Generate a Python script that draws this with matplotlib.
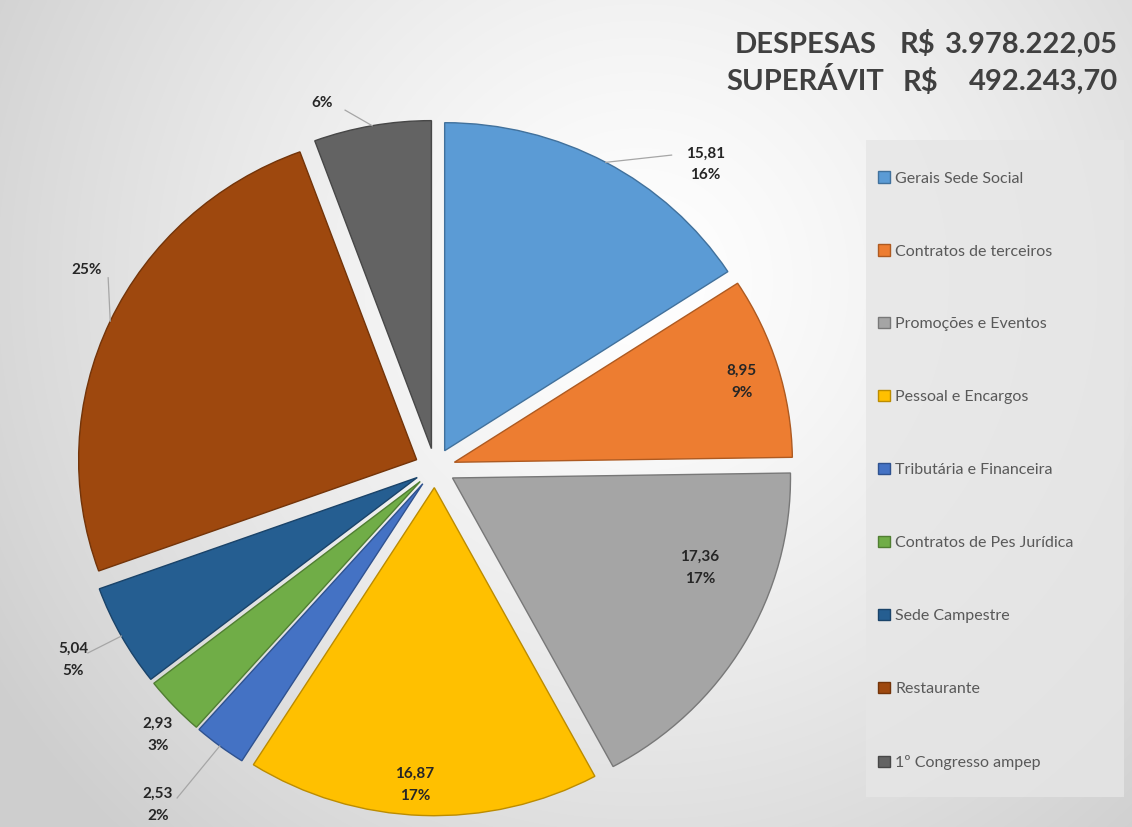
import matplotlib.pyplot as plt
import numpy as np
from matplotlib.patches import Rectangle

plt.rcParams['font.family'] = ['Lato', 'DejaVu Sans']

# data
categories = ['Gerais Sede Social', 'Contratos de terceiros', 'Promoções e Eventos',
              'Pessoal e Encargos', 'Tributária e Financeira', 'Contratos de Pes Jurídica',
              'Sede Campestre', 'Restaurante', '1º Congresso ampep']
values = [15.81, 8.95, 17.36, 16.87, 2.53, 2.93, 5.04, 24.9, 5.61]
value_labels = ['15,81', '8,95', '17,36', '16,87', '2,53', '2,93', '5,04', '', '']
pct_labels = ['16%', '9%', '17%', '17%', '2%', '3%', '5%', '25%', '6%']
colors = ['#5B9BD5', '#ED7D31', '#A5A5A5', '#FFC000', '#4472C4',
          '#70AD47', '#255E91', '#9E480E', '#636363']
edges = ['#41719C', '#AE5A21', '#787878', '#BC8C00', '#2F528F',
         '#507E32', '#1A4369', '#733409', '#474747']

# label positions (data units) and leader line start (None = no leader)
label_pos = [(0.80, 0.925), (0.908, 0.262), (0.784, -0.305), (-0.059, -0.966),
             (-0.82, -1.027), (-0.82, -0.814), (-1.071, -0.585), (-1.03, 0.604),
             (-0.334, 1.113)]
leader_from = [(0.70, 0.954), None, None, None, (-0.763, -1.006), None,
               (-1.027, -0.564), (-0.967, 0.58), (-0.266, 1.091)]

W, H = 1132, 827
fig = plt.figure(figsize=(W / 100, H / 100), dpi=100)

# radial grey background
bg = fig.add_axes([0, 0, 1, 1])
yy, xx = np.mgrid[0:H, 0:W]
d = np.sqrt((xx - 640) ** 2 + (yy - 280) ** 2) / 760
d = np.clip(d, 0, 1)
shade = 1.0 - 0.19 * d ** 1.3
bg.imshow(np.dstack([shade] * 3), extent=[0, W, H, 0], aspect='auto')
bg.set_xlim(0, W)
bg.set_ylim(H, 0)
bg.axis('off')

# legend box
bg.add_patch(Rectangle((866, 140), 258, 657, facecolor='#e6e6e6', edgecolor='none', alpha=0.8))

# pie axes: centre at (435, 468) px, radius 338 px wide / 328 px high
rx, ry = 338, 328
lim = 1.2
ax = fig.add_axes([(435 - lim * rx) / W, (H - 468 - lim * ry) / H, 2 * lim * rx / W, 2 * lim * ry / H])
ax.patch.set_alpha(0)

wedges, _ = ax.pie(values, colors=colors, startangle=90, counterclock=False,
                   explode=[0.06] * len(values),
                   wedgeprops=dict(linewidth=1.0))
for w, ec in zip(wedges, edges):
    w.set_edgecolor(ec)
ax.set_aspect('auto')
ax.set_xlim(-lim, lim)
ax.set_ylim(-lim, lim)

for i, w in enumerate(wedges):
    mid = np.deg2rad((w.theta1 + w.theta2) / 2)
    cx, cy = w.center
    tip = (cx + np.cos(mid), cy + np.sin(mid))
    if leader_from[i] is not None:
        lx, ly = leader_from[i]
        ax.plot([lx, tip[0]], [ly, tip[1]], color='#a6a6a6', lw=0.9, clip_on=False)
    txt = pct_labels[i] if not value_labels[i] else value_labels[i] + '\n' + pct_labels[i]
    ax.text(label_pos[i][0], label_pos[i][1], txt, ha='center', va='center',
            fontsize=11, fontweight='bold', color='#262626', linespacing=1.7,
            clip_on=False)

# header totals
hc = '#404040'
fs = 21
fig.text(735 / W, 1 - 45 / H, 'DESPESAS', fontsize=fs, fontweight='bold', color=hc, va='center')
fig.text(900 / W, 1 - 45 / H, 'R$', fontsize=fs, fontweight='bold', color=hc, va='center')
fig.text(1118 / W, 1 - 45 / H, '3.978.222,05', fontsize=fs, fontweight='bold', color=hc,
         va='center', ha='right')
fig.text(726 / W, 1 - 82 / H, 'SUPERÁVIT', fontsize=fs, fontweight='bold', color=hc, va='center')
fig.text(903 / W, 1 - 82 / H, 'R$', fontsize=fs, fontweight='bold', color=hc, va='center')
fig.text(1118 / W, 1 - 82 / H, '492.243,70', fontsize=fs, fontweight='bold', color=hc,
         va='center', ha='right')

fig.legend(wedges, categories, loc='upper left', bbox_to_anchor=(872 / W, 1 - 165 / H),
           frameon=False, fontsize=11.5, labelcolor='#595959', labelspacing=3.68,
           handlelength=0.7, handleheight=0.7, handletextpad=0.35, borderaxespad=0)

fig.savefig('out.png', dpi=100)
